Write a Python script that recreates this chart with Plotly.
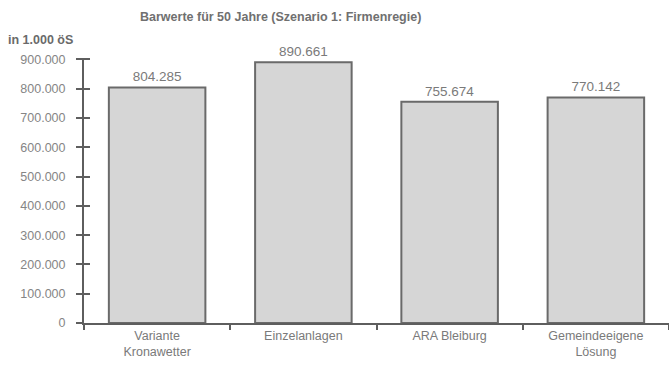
import plotly.graph_objects as go

categories = ["Variante<br>Kronawetter", "Einzelanlagen", "ARA Bleiburg", "Gemeindeeigene<br>Lösung"]
values = [804285, 890661, 755674, 770142]
tick_values = [0, 100000, 200000, 300000, 400000, 500000, 600000, 700000, 800000, 900000]
tick_labels = ["0", "100.000", "200.000", "300.000", "400.000", "500.000",
               "600.000", "700.000", "800.000", "900.000"]
title_text = "Barwerte für 50 Jahre (Szenario 1: Firmenregie)"
unit_text = "in 1.000 öS"

axis_col = "#5e5e5e"
text_col = "#7a7a7a"
font_fam = "Liberation Sans, Arial, sans-serif"

fig = go.Figure()
fig.add_trace(go.Bar(
    x=categories, y=values,
    marker=dict(color="#d6d6d6", line=dict(color="#6a6a6a", width=2)),
    texttemplate="%{y:,.0f}", textposition="outside",
    textfont=dict(size=13.5, color=text_col, family=font_fam),
    cliponaxis=False, width=0.66,
))
# invisible trace on overlay axis to draw inner tick halves
fig.add_trace(go.Scatter(x=categories, y=values, yaxis="y2", mode="markers",
                         marker=dict(opacity=0), hoverinfo="skip", showlegend=False))

fig.update_layout(
    width=669, height=366,
    margin=dict(l=84, r=0, t=58, b=43),
    paper_bgcolor="white", plot_bgcolor="white",
    separators=",.",
    showlegend=False,
    font=dict(family=font_fam, color=text_col, size=12),
    xaxis=dict(
        showline=True, linecolor=axis_col, linewidth=2,
        ticks="outside", tickson="boundaries", ticklen=5, tickcolor=axis_col, tickwidth=2,
        showgrid=False, zeroline=False,
        tickfont=dict(size=12.5, color=text_col),
    ),
    yaxis=dict(
        range=[0, 905000], showline=True, linecolor=axis_col, linewidth=2,
        ticks="outside", ticklen=6, tickcolor=axis_col, tickwidth=2,
        tickvals=tick_values, ticktext=tick_labels,
        ticklabelstandoff=8,
        showgrid=False, zeroline=False,
        tickfont=dict(size=12.5, color="#858585"),
    ),
    yaxis2=dict(
        overlaying="y", side="left", range=[0, 905000],
        ticks="inside", ticklen=6, tickcolor=axis_col, tickwidth=2,
        tickvals=tick_values, showticklabels=False,
        showgrid=False, zeroline=False, showline=False,
    ),
    annotations=[
        dict(text="<b>" + title_text + "</b>", xref="paper", yref="paper",
             x=(280 - 84) / 585, y=1, yshift=41, xanchor="center", yanchor="middle",
             showarrow=False, font=dict(size=12.5, color="#707070")),
        dict(text="<b>" + unit_text + "</b>", xref="paper", yref="paper",
             x=0, xshift=-78, y=1, yshift=18, xanchor="left", yanchor="middle",
             showarrow=False, font=dict(size=12.5, color="#6a6a6a")),
    ],
)

fig.write_html("out.html")
